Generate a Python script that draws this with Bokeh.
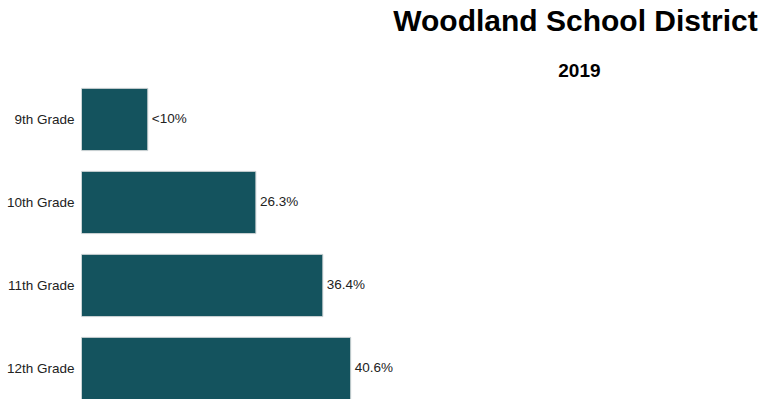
from bokeh.plotting import figure
from bokeh.models import Range1d, FixedTicker, ColumnDataSource
from bokeh.core.properties import value
from bokeh.embed import file_html
from bokeh.resources import INLINE

# ---- data ----
grades = ["9th Grade", "10th Grade", "11th Grade", "12th Grade"]
percents = [10.0, 26.3, 36.4, 40.6]
pct_labels = ["<10%", "26.3%", "36.4%", "40.6%"]
title_text = "Woodland School District"
subtitle_text = "2019"

FONT = "Liberation Sans"
BAR_COLOR = "#14535E"

idx = list(range(len(grades)))
src = ColumnDataSource(dict(y=idx, v=percents, lab=pct_labels))

p = figure(width=761, height=399, output_backend="svg", toolbar_location=None,
           x_range=Range1d(0, 102.56), y_range=Range1d(3.3735, -1.4337),
           x_axis_location=None)
p.min_border_left = 81
p.min_border_right = 0
p.min_border_top = 0
p.min_border_bottom = 0
p.outline_line_color = None
p.grid.visible = False
p.background_fill_color = "white"
p.border_fill_color = "white"

ax = p.yaxis[0]
ax.ticker = FixedTicker(ticks=idx)
ax.major_label_overrides = {i: g for i, g in zip(idx, grades)}
ax.axis_line_color = None
ax.major_tick_line_color = None
ax.minor_tick_line_color = None
ax.major_tick_out = 0
ax.major_tick_in = 0
ax.major_label_standoff = 7
ax.major_label_text_font = FONT
ax.major_label_text_font_size = "13.5px"
ax.major_label_text_color = "#222222"

p.hbar(y="y", left=0, right="v", height=0.75, source=src,
       fill_color=BAR_COLOR, line_color="#cfd4d6", line_width=1)

p.text(x="v", y="y", text="lab", source=src, x_offset=4, y_offset=-1,
       text_align="left", text_baseline="middle",
       text_font=value(FONT), text_font_size="13.5px", text_color="#222222")

p.text(x=[74.5], y=[-1.190], text=[title_text], text_align="center",
       text_baseline="alphabetic", text_font=value(FONT),
       text_font_size="30px", text_font_style="bold", text_color="#000000")
p.text(x=[75.1], y=[-0.595], text=[subtitle_text], text_align="center",
       text_baseline="alphabetic", text_font=value(FONT),
       text_font_size="19px", text_font_style="bold", text_color="#000000")

open("out.html", "w").write(file_html(p, INLINE))
